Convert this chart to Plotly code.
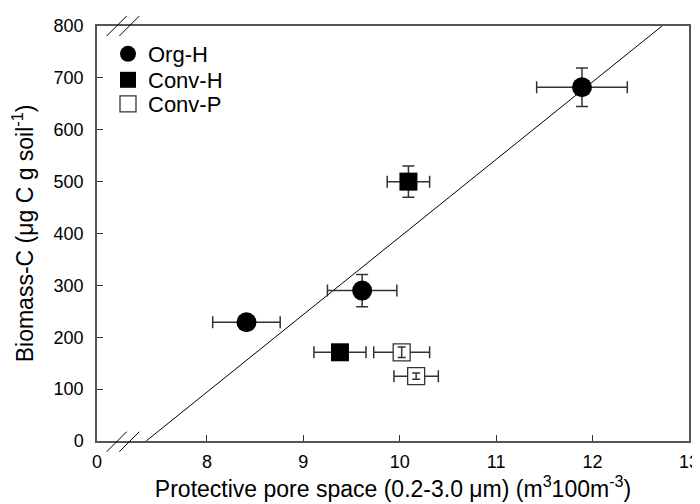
import plotly.graph_objects as go

# ---- data ----
org_x = [8.41, 9.61, 11.89]
org_y = [229, 290, 682]
org_xerr = [0.35, 0.36, 0.47]
org_yerr = [8, 31, 37]

convh_x = [9.38, 10.09]
convh_y = [171, 500]
convh_xerr = [0.27, 0.22]
convh_yerr = [8, 30]

convp_x = [10.02, 10.17]
convp_y = [171, 125]
convp_xerr = [0.29, 0.23]
convp_yerr = [10, 6]

fit_x = [7.37, 12.72]
fit_y = [0, 800]

x_break_zero = 6.86
x_tickvals = [x_break_zero, 8, 9, 10, 11, 12, 13]
x_ticktext = ["0", "8", "9", "10", "11", "12", "13"]
y_tickvals = [0, 100, 200, 300, 400, 500, 600, 700, 800]

FONT = "Liberation Sans, Arial, sans-serif"
ERRC = "#333333"

# page body has an 8px default margin; compensate
OFF = 8
W, H = 700, 504
X0, X1, Y0, Y1 = 97, 689, 26, 441   # plot area on screen
L, T = X0 - OFF, Y0 - OFF
R = (W + OFF) - X1
B = (H + OFF) - Y1
PW, PH = X1 - X0, Y1 - Y0

def px(p):
    return (p - X0) / PW

def py(p):
    return 1 - (p - Y0) / PH

fig = go.Figure()

fig.add_trace(go.Scatter(
    x=fit_x, y=fit_y, mode="lines", line=dict(color="black", width=1),
    showlegend=False, hoverinfo="skip"))

def err(arr, w):
    return dict(type="data", array=arr, visible=True, color=ERRC, thickness=1.5, width=w)

fig.add_trace(go.Scatter(
    x=org_x, y=org_y, mode="markers", name="Org-H", legend="legend",
    marker=dict(symbol="circle", size=20, color="black"),
    error_x=err(org_xerr, 6), error_y=err(org_yerr, 6)))

fig.add_trace(go.Scatter(
    x=convh_x, y=convh_y, mode="markers", name="Conv-H", legend="legend2",
    marker=dict(symbol="square", size=18, color="black"),
    error_x=err(convh_xerr, 6), error_y=err(convh_yerr, 6)))

fig.add_trace(go.Scatter(
    x=convp_x, y=convp_y, mode="markers", name="Conv-P", legend="legend3",
    marker=dict(symbol="square", size=17, color="white", line=dict(color="#333333", width=1.3)),
    error_x=err(convp_xerr, 6)))

fig.add_trace(go.Scatter(
    x=convp_x, y=convp_y, mode="markers", showlegend=False, hoverinfo="skip",
    marker=dict(symbol="square", size=17, opacity=0),
    error_y=err(convp_yerr, 4)))

shapes = []
for xs in (106.7, 119.3):
    shapes.append(dict(type="line", xref="paper", yref="paper",
                       x0=px(xs), y0=py(451.7), x1=px(xs + 20), y1=py(431.7),
                       line=dict(color="black", width=1)))
    shapes.append(dict(type="line", xref="paper", yref="paper",
                       x0=px(xs), y0=py(36), x1=px(xs + 20), y1=py(16),
                       line=dict(color="black", width=1)))

def leg(ycenter):
    return dict(x=px(108), y=py(ycenter), xanchor="left", yanchor="middle",
                bgcolor="rgba(0,0,0,0)", font=dict(size=22, family=FONT),
                itemsizing="trace")

fig.update_layout(
    width=W, height=H,
    margin=dict(l=L, r=R, t=T, b=B, autoexpand=False),
    paper_bgcolor="white", plot_bgcolor="white",
    font=dict(family=FONT, size=18, color="black"),
    shapes=shapes,
    legend=leg(54), legend2=leg(80), legend3=leg(104),
    xaxis=dict(range=[x_break_zero, 13], tickvals=x_tickvals, ticktext=x_ticktext,
               ticks="inside", ticklen=6, tickcolor="#333", showgrid=False, zeroline=False,
               showline=True, linecolor="#555", linewidth=1.5, mirror=True,
               tickfont=dict(size=18), automargin=False, ticklabelstandoff=4,
               title=dict(text="Protective pore space (0.2-3.0 \u03bcm) (m<sup>3</sup>100m<sup>-3</sup>)",
                          font=dict(size=23), standoff=4)),
    yaxis=dict(range=[0, 800], tickvals=y_tickvals,
               ticks="inside", ticklen=6, tickcolor="#333", showgrid=False, zeroline=False,
               showline=True, linecolor="#555", linewidth=1.5, mirror=True,
               tickfont=dict(size=18), automargin=False, ticklabelstandoff=8,
               title=dict(text="Biomass-C (\u03bcg C g soil<sup>-1</sup>)",
                          font=dict(size=23), standoff=14)),
)

fig.write_html("out.html")
